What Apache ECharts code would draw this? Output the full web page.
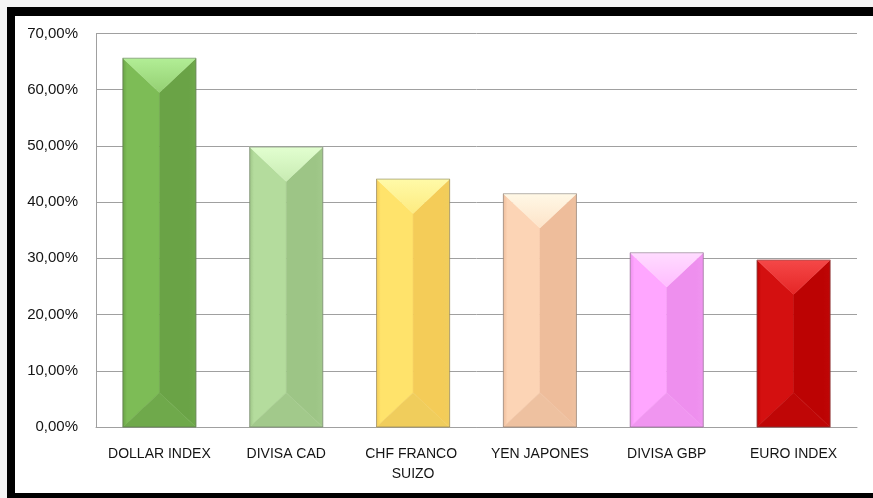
<!DOCTYPE html>
<html>
<head>
<meta charset="utf-8">
<script src="https://cdn.jsdelivr.net/npm/echarts@6/dist/echarts.min.js"></script>
<style>
html,body{margin:0;padding:0;background:#f4f4f4;width:873px;height:498px;overflow:hidden;}
#frame{position:absolute;left:7px;top:7px;width:866px;height:491px;box-sizing:border-box;border-top:9px solid #000;border-left:8px solid #000;border-bottom:5px solid #000;background:#fff;}
#chart{position:absolute;left:0;top:0;width:858px;height:477px;}
</style>
</head>
<body>
<div id="frame"><div id="chart"></div></div>
<script>
const categories = ["DOLLAR INDEX", "DIVISA CAD", "CHF FRANCO SUIZO", "YEN JAPONES", "DIVISA GBP", "EURO INDEX"];
const values = [65.6, 49.8, 44.1, 41.5, 31.0, 29.7];
const yTicks = [0, 10, 20, 30, 40, 50, 60, 70];
// face colours per bar: [top light, top, left, right, bottom]
const faceColors = [
  ["#b2ee96", "#94cf72", "#7dbc56", "#6aa346", "#6fa94b"],
  ["#e2ffd0", "#c8ebb2", "#b4dc9d", "#9dc586", "#a2c98b"],
  ["#fffaa8", "#fdeb80", "#ffe36b", "#f4cc58", "#f0cd5c"],
  ["#fff8e6", "#fde3c8", "#fcd4b5", "#eebd9b", "#eec1a0"],
  ["#ffdcff", "#ffbcff", "#ffa6ff", "#ee8fee", "#f095f0"],
  ["#f54848", "#e52626", "#d41010", "#bc0303", "#bf0606"]
];

const chart = echarts.init(document.getElementById('chart'));

function renderItem(params, api) {
  const idx = api.value(0);
  const val = api.value(1);
  const top = api.coord([idx, val]);
  const base = api.coord([idx, 0]);
  const band = api.size([1, 0])[0];
  const w = band * 0.576;
  const x0 = top[0] - w / 2, x1 = top[0] + w / 2, xc = top[0];
  const yt = top[1], yb = base[1];
  const d = Math.min(w * 0.47, (yb - yt) / 2);
  const c = faceColors[idx];
  function poly(points, fill) {
    return {type: 'polygon', shape: {points: points}, style: {fill: fill, stroke: fill, lineWidth: 0.5}};
  }
  return {
    type: 'group',
    children: [
      poly([[x0, yt], [xc, yt + d], [xc, yb - d], [x0, yb]], new echarts.graphic.LinearGradient(0, 0, 1, 0, [
        {offset: 0, color: c[3]}, {offset: 0.12, color: c[2]}, {offset: 0.5, color: c[2]}, {offset: 1, color: c[2]}
      ])),
      poly([[x1, yt], [xc, yt + d], [xc, yb - d], [x1, yb]], new echarts.graphic.LinearGradient(0, 0, 1, 0, [
        {offset: 0, color: c[3]}, {offset: 0.8, color: c[3]}, {offset: 1, color: c[4]}
      ])),
      poly([[x0, yt], [x1, yt], [xc, yt + d]], new echarts.graphic.LinearGradient(0, 0, 0, 1, [
        {offset: 0, color: c[0]}, {offset: 1, color: c[1]}
      ])),
      poly([[x0, yb], [x1, yb], [xc, yb - d]], c[4]),
      {type: 'rect', shape: {x: x0, y: yt, width: w, height: yb - yt},
        style: {fill: 'none', stroke: 'rgba(90,90,90,0.45)', lineWidth: 1}}
    ]
  };
}

chart.setOption({
  animation: false,
  grid: {left: 81, top: 17.5, right: 1, bottom: 66, width: 761, containLabel: false},
  xAxis: {
    type: 'category',
    data: categories,
    axisLine: {show: true, lineStyle: {color: '#a0a0a0', width: 1}},
    axisTick: {show: false},
    axisLabel: {
      interval: 0, margin: 17, color: '#141414',
      fontFamily: 'Liberation Sans', fontSize: 14, lineHeight: 20,
      width: 115, overflow: 'break'
    }
  },
  yAxis: {
    type: 'value',
    min: yTicks[0], max: yTicks[yTicks.length - 1], interval: 10,
    axisLine: {show: true, lineStyle: {color: '#a0a0a0', width: 1}},
    axisTick: {show: false},
    splitLine: {show: true, lineStyle: {color: '#a0a0a0', width: 1}},
    axisLabel: {
      margin: 18, color: '#141414', fontFamily: 'Liberation Sans', fontSize: 15,
      formatter: v => v.toFixed(2).replace('.', ',') + '%'
    }
  },
  series: [{
    type: 'custom',
    renderItem: renderItem,
    data: values.map((v, i) => [i, v])
  }]
});
</script>
</body>
</html>
